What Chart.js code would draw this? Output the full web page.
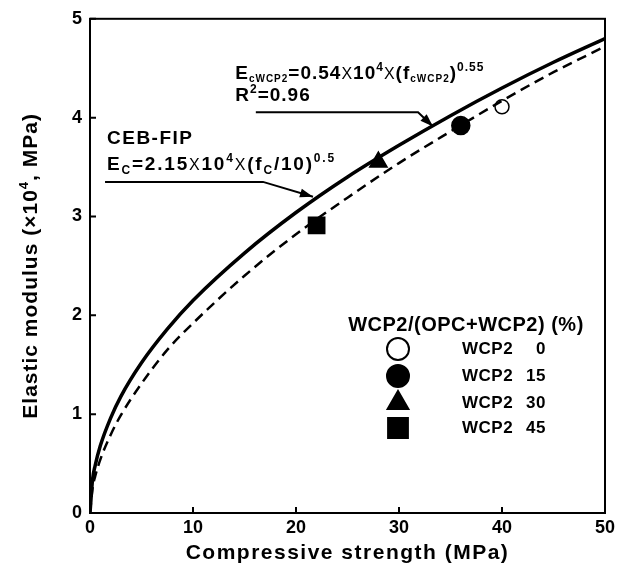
<!DOCTYPE html>
<html>
<head>
<meta charset="utf-8" />
<script src="https://cdn.jsdelivr.net/npm/chart.js@4.4.0/dist/chart.umd.min.js"></script>
<style>
  body { margin:0; background:#fff; }
  #wrap { width:628px; height:567px; }
</style>
</head>
<body>
<div id="wrap"><canvas id="ecChart" width="628" height="567"></canvas></div>
<script>
// compressive strength grid (MPa) and the two modulus curves (x10^4 MPa)
const fcGrid = [0, 0.25, 0.5, 1, 2, 3, 5, 7.5, 10, 15, 20, 25, 30, 35, 40, 45, 50];
const cebFip = [0, 0.34, 0.48, 0.68, 0.96, 1.18, 1.52, 1.86, 2.15, 2.63, 3.04, 3.40, 3.72, 4.02, 4.30, 4.56, 4.80];
const wcpFit = [0, 0.25, 0.37, 0.54, 0.79, 0.99, 1.31, 1.65, 1.92, 2.40, 2.82, 3.19, 3.54, 3.86, 4.17, 4.46, 4.72];

// measured mixes
const mixNames    = ['WCP2', 'WCP2', 'WCP2', 'WCP2'];
const mixRatio    = ['0', '15', '30', '45'];
const mixStrength = [40, 36, 28, 22];
const mixModulus  = [4.11, 3.92, 3.55, 2.91];

const xTicks = [0, 10, 20, 30, 40, 50];
const yTicks = [0, 1, 2, 3, 4, 5];

const FONT = '"Liberation Sans", Arial, sans-serif';

const markers = [
  { pointStyle: 'circle',   radius: 7,    fill: '#fff', legend: 11 },
  { pointStyle: 'circle',   radius: 9,    fill: '#000', legend: 11 },
  { pointStyle: 'triangle', radius: 10,   fill: '#000', legend: 12 },
  { pointStyle: 'rect',     radius: 11.5, fill: '#000', legend: 14 }
];

function partStyle(kind, s) {
  if (kind === 'sub')  return { font: `bold ${Math.round(s * 0.62)}px ${FONT}`, dy: s * 0.22 };
  if (kind === 'sub2') return { font: `bold ${Math.round(s * 0.52)}px ${FONT}`, dy: s * 0.14 };
  if (kind === 'sup')  return { font: `bold ${Math.round(s * 0.62)}px ${FONT}`, dy: -s * 0.42 };
  if (kind === 'x')    return { font: `${Math.round(s * 0.85)}px ${FONT}`, dy: 0 };
  return { font: `bold ${s}px ${FONT}`, dy: 0 };
}

function richWidth(ctx, parts, s) {
  let w = 0;
  for (const [t, k] of parts) { ctx.font = partStyle(k, s).font; w += ctx.measureText(t).width; }
  return w;
}

function drawRich(ctx, x, y, parts, s) {
  let cx = x;
  for (const [t, k] of parts) {
    const st = partStyle(k, s);
    ctx.font = st.font;
    ctx.fillText(t, cx, y + st.dy);
    cx += ctx.measureText(t).width;
  }
  return cx;
}

function arrowLine(ctx, pts) {
  ctx.beginPath();
  ctx.moveTo(pts[0][0], pts[0][1]);
  for (let i = 1; i < pts.length; i++) ctx.lineTo(pts[i][0], pts[i][1]);
  ctx.lineWidth = 2;
  ctx.stroke();
  const [ax, ay] = pts[pts.length - 2], [bx, by] = pts[pts.length - 1];
  const a = Math.atan2(by - ay, bx - ax);
  ctx.beginPath();
  ctx.moveTo(bx, by);
  ctx.lineTo(bx - 13 * Math.cos(a) + 4.5 * Math.sin(a), by - 13 * Math.sin(a) - 4.5 * Math.cos(a));
  ctx.lineTo(bx - 13 * Math.cos(a) - 4.5 * Math.sin(a), by - 13 * Math.sin(a) + 4.5 * Math.cos(a));
  ctx.closePath();
  ctx.fill();
}

// frame, inward ticks, axis titles, equations and legend
const decor = {
  id: 'decor',
  afterDraw(chart) {
    const { ctx, chartArea: ca, scales: { x, y } } = chart;
    const px = v => x.getPixelForValue(v), py = v => y.getPixelForValue(v);
    ctx.save();
    ctx.strokeStyle = '#000';
    ctx.fillStyle = '#000';
    ctx.lineWidth = 2;
    ctx.strokeRect(ca.left, ca.top, ca.right - ca.left, ca.bottom - ca.top);
    ctx.beginPath();
    xTicks.forEach(v => { ctx.moveTo(px(v), ca.bottom); ctx.lineTo(px(v), ca.bottom - 6); });
    yTicks.forEach(v => { ctx.moveTo(ca.left, py(v)); ctx.lineTo(ca.left + 6, py(v)); });
    ctx.stroke();

    // axis titles
    ctx.textBaseline = 'alphabetic';
    ctx.letterSpacing = '1.5px';
    const xt = [['Compressive strength (MPa)', '']];
    drawRich(ctx, (ca.left + ca.right) / 2 - richWidth(ctx, xt, 21) / 2, 559, xt, 21);
    ctx.letterSpacing = '1px';
    const yt = [['Elastic modulus (', ''], ['×', ''], ['10', ''], ['4', 'sup'], [', MPa)', '']];
    ctx.translate(37, (ca.top + ca.bottom) / 2);
    ctx.rotate(-Math.PI / 2);
    drawRich(ctx, -richWidth(ctx, yt, 21) / 2, 0, yt, 21);
    ctx.setTransform(1, 0, 0, 1, 0, 0);

    // CEB-FIP equation
    ctx.letterSpacing = '1.5px';
    drawRich(ctx, px(1.65), py(3.73), [['CEB-FIP', '']], 19);
    ctx.letterSpacing = '1.8px';
    drawRich(ctx, px(1.65), py(3.47), [
      ['E', ''], ['C', 'sub'], ['=2.15', ''], ['X', 'x'], ['10', ''], ['4', 'sup'],
      ['X', 'x'], ['(f', ''], ['C', 'sub'], ['/10)', ''], ['0.5', 'sup']
    ], 19);
    arrowLine(ctx, [[px(1.46), py(3.35)], [px(16.8), py(3.35)], [px(21.65), py(3.2)]]);

    // WCP2 regression equation
    ctx.letterSpacing = '1px';
    drawRich(ctx, px(14.1), py(4.39), [
      ['E', ''], ['cWCP2', 'sub2'], ['=0.54', ''], ['X', 'x'], ['10', ''], ['4', 'sup'],
      ['X', 'x'], ['(f', ''], ['cWCP2', 'sub2'], [')', ''], ['0.55', 'sup']
    ], 19);
    drawRich(ctx, px(14.1), py(4.165), [['R', ''], ['2', 'sup'], ['=0.96', '']], 19);
    arrowLine(ctx, [[px(16.1), py(4.054)], [px(31.85), py(4.054)], [px(33.3), py(3.91)]]);

    // legend
    ctx.letterSpacing = '0.5px';
    const lt = [['WCP2/(OPC+WCP2) (%)', '']];
    drawRich(ctx, 466 - richWidth(ctx, lt, 20) / 2, 331, lt, 20);
    const rows = [349, 376, 403, 428];
    ctx.font = `bold 17px ${FONT}`;
    ctx.textBaseline = 'middle';
    markers.forEach((m, i) => {
      ctx.fillStyle = m.fill;
      ctx.strokeStyle = '#000';
      Chart.helpers.drawPoint(ctx, { pointStyle: m.pointStyle, radius: m.legend, rotation: 0, borderWidth: 1.5 }, 398, rows[i]);
      ctx.fillStyle = '#000';
      ctx.textAlign = 'left';
      ctx.fillText(mixNames[i], 462, rows[i]);
      ctx.textAlign = 'right';
      ctx.fillText(mixRatio[i], 546, rows[i]);
    });
    ctx.restore();
  }
};

const curvePts = ys => fcGrid.map((v, i) => ({ x: v, y: ys[i] }));

const datasets = [
  { data: curvePts(cebFip), showLine: true, borderColor: '#000', borderWidth: 3.5, pointRadius: 0, cubicInterpolationMode: 'monotone' },
  { data: curvePts(wcpFit), showLine: true, borderColor: '#000', borderWidth: 2.5, borderDash: [10, 6], pointRadius: 0, cubicInterpolationMode: 'monotone' }
];
markers.forEach((m, i) => datasets.push({
  data: [{ x: mixStrength[i], y: mixModulus[i] }],
  pointStyle: m.pointStyle, pointRadius: m.radius, backgroundColor: m.fill,
  borderColor: '#000', borderWidth: 1.5
}));

const tickFont = { family: FONT, size: 18, weight: 'bold' };

new Chart(document.getElementById('ecChart'), {
  type: 'scatter',
  data: { datasets },
  options: {
    responsive: false,
    animation: false,
    layout: { padding: { top: 16, right: 23, left: 0, bottom: 0 } },
    plugins: { legend: { display: false }, tooltip: { enabled: false } },
    scales: {
      x: {
        type: 'linear', min: 0, max: 50,
        afterBuildTicks: s => { s.ticks = xTicks.map(v => ({ value: v })); },
        afterFit: s => { s.height = 54; },
        grid: { display: false, drawTicks: false }, border: { display: false },
        ticks: { color: '#000', padding: 4, font: tickFont }
      },
      y: {
        type: 'linear', min: 0, max: 5,
        afterBuildTicks: s => { s.ticks = yTicks.map(v => ({ value: v })); },
        afterFit: s => { s.width = 90; },
        grid: { display: false, drawTicks: false }, border: { display: false },
        ticks: { color: '#000', padding: 8, font: tickFont }
      }
    }
  },
  plugins: [decor]
});
</script>
</body>
</html>
